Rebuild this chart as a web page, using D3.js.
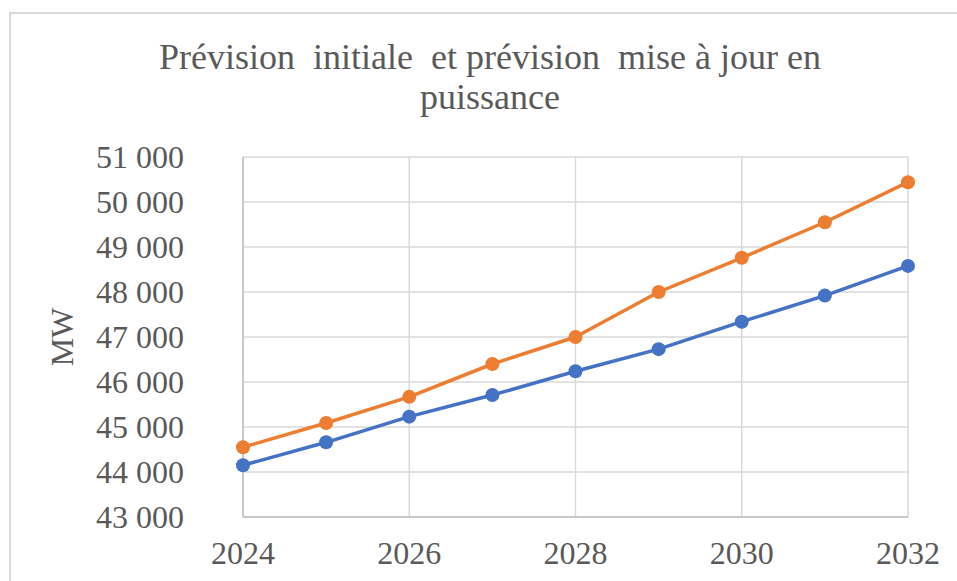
<!DOCTYPE html>
<html>
<head>
<meta charset="utf-8">
<title>Prévision initiale et prévision mise à jour en puissance</title>
<style>
  body { margin: 0; background: #fff; }
  svg { display: block; font-family: "Liberation Serif", "Times New Roman", serif; }
</style>
</head>
<body>
<svg></svg>
<script src="https://d3js.org/d3.v7.min.js"></script>
<script>
    let width = 957, height = 581;

    // data (MW)
    let years = [2024, 2025, 2026, 2027, 2028, 2029, 2030, 2031, 2032];
    let initiale = [44150, 44660, 45230, 45710, 46240, 46730, 47340, 47920, 48580];
    let miseAJour = [44550, 45090, 45670, 46400, 47000, 48000, 48760, 49550, 50440];
    let yTicks = [43000, 44000, 45000, 46000, 47000, 48000, 49000, 50000, 51000];
    let xTicks = [2024, 2026, 2028, 2030, 2032];

    let series = [
        { name: "Prévision initiale", values: initiale, color: "#4472C4" },
        { name: "Prévision mise à jour", values: miseAJour, color: "#ED7D31" }
    ];

    let svg = d3.select("svg")
        .attr("width", width)
        .attr("height", height);

    // chart frame
    svg.append("rect")
        .attr("x", 10).attr("y", 13)
        .attr("width", 960).attr("height", 600)
        .attr("fill", "none")
        .attr("stroke", "#d9d9d9")
        .attr("stroke-width", 2);

    let margin = { left: 243, right: 908, top: 157, bottom: 517 };

    let x = d3.scaleLinear().domain([2024, 2032]).range([margin.left, margin.right]);
    let y = d3.scaleLinear().domain([43000, 51000]).range([margin.bottom, margin.top]);

    let fmt = d => d3.format(",")(d).replace(",", " ");

    // gridlines
    svg.append("g")
        .selectAll("line.h")
        .data(yTicks)
        .enter()
        .append("line")
        .attr("x1", margin.left).attr("x2", margin.right)
        .attr("y1", d => y(d)).attr("y2", d => y(d))
        .attr("stroke", "#d9d9d9")
        .attr("stroke-width", 1.5);

    svg.append("g")
        .selectAll("line.v")
        .data(xTicks)
        .enter()
        .append("line")
        .attr("x1", d => x(d)).attr("x2", d => x(d))
        .attr("y1", margin.top).attr("y2", margin.bottom)
        .attr("stroke", "#d9d9d9")
        .attr("stroke-width", 1.5);

    // axis lines
    svg.append("line")
        .attr("x1", margin.left).attr("x2", margin.left)
        .attr("y1", margin.top).attr("y2", margin.bottom)
        .attr("stroke", "#c8c8c8").attr("stroke-width", 2);
    svg.append("line")
        .attr("x1", margin.left).attr("x2", margin.right)
        .attr("y1", margin.bottom).attr("y2", margin.bottom)
        .attr("stroke", "#c8c8c8").attr("stroke-width", 2);

    // tick labels
    svg.append("g")
        .selectAll("text")
        .data(yTicks)
        .enter()
        .append("text")
        .attr("x", 184)
        .attr("y", d => y(d) + 11)
        .attr("text-anchor", "end")
        .attr("font-size", 32)
        .attr("fill", "#595959")
        .text(fmt);

    svg.append("g")
        .selectAll("text")
        .data(xTicks)
        .enter()
        .append("text")
        .attr("x", d => x(d))
        .attr("y", 564)
        .attr("text-anchor", "middle")
        .attr("font-size", 32)
        .attr("fill", "#595959")
        .text(d => d);

    // axis title
    svg.append("text")
        .attr("transform", "translate(73,337) rotate(-90)")
        .attr("text-anchor", "middle")
        .attr("font-size", 32)
        .attr("fill", "#595959")
        .text("MW");

    // chart title (double spaces as in the original)
    let title = svg.append("text")
        .attr("text-anchor", "middle")
        .attr("font-size", 36)
        .attr("fill", "#595959")
        .style("white-space", "pre");
    title.append("tspan").attr("x", 490).attr("y", 69)
        .text("Prévision  initiale  et prévision  mise à jour en");
    title.append("tspan").attr("x", 490).attr("y", 109)
        .text("puissance");

    // lines and markers
    let line = d3.line()
        .x((d, i) => x(years[i]))
        .y(d => y(d));

    series.forEach(s => {
        svg.append("path")
            .datum(s.values)
            .attr("d", line)
            .attr("fill", "none")
            .attr("stroke", s.color)
            .attr("stroke-width", 3.5)
            .attr("stroke-linejoin", "round");

        svg.append("g")
            .selectAll("circle")
            .data(s.values)
            .enter()
            .append("circle")
            .attr("cx", (d, i) => x(years[i]))
            .attr("cy", d => y(d))
            .attr("r", 7)
            .attr("fill", s.color);
    });
</script>
</body>
</html>
